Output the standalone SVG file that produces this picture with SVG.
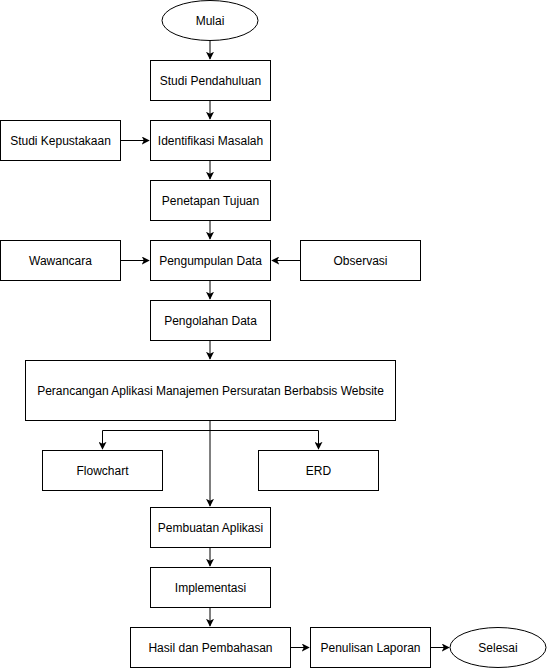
<svg xmlns="http://www.w3.org/2000/svg" width="547" height="668" viewBox="0 0 547 668">
<defs>
<style>
.n{fill:#fff;stroke:#000;stroke-width:1}
.t{font-family:"Liberation Sans",Arial,Helvetica,sans-serif;font-size:12px;fill:#000;text-anchor:middle;dominant-baseline:central}
.c{fill:none;stroke:#000;stroke-width:1}
</style>
<marker id="ah" viewBox="0 0 10 10" refX="9" refY="5" markerWidth="8" markerHeight="8" markerUnits="userSpaceOnUse" orient="auto">
<path d="M0,0 L10,5 L0,10 L2.5,5 Z" fill="#000"/>
</marker>
</defs>
<rect width="547" height="668" fill="#fff"/>
<g id="connectors">
<path class="c" d="M210,40.5 V59" marker-end="url(#ah)"/>
<path class="c" d="M210,100.5 V119" marker-end="url(#ah)"/>
<path class="c" d="M120.5,140.5 H149" marker-end="url(#ah)"/>
<path class="c" d="M210,160.5 V179" marker-end="url(#ah)"/>
<path class="c" d="M210,220.5 V239" marker-end="url(#ah)"/>
<path class="c" d="M120.5,260.5 H149" marker-end="url(#ah)"/>
<path class="c" d="M300.5,260.5 H272" marker-end="url(#ah)"/>
<path class="c" d="M210,280.5 V299" marker-end="url(#ah)"/>
<path class="c" d="M210,340.5 V359" marker-end="url(#ah)"/>
<path class="c" d="M210,420.5 V506" marker-end="url(#ah)"/>
<path class="c" d="M210,430.5 H102.5 V449" marker-end="url(#ah)"/>
<path class="c" d="M210,430.5 H318.5 V449" marker-end="url(#ah)"/>
<path class="c" d="M210,547.5 V566" marker-end="url(#ah)"/>
<path class="c" d="M210,607.5 V626" marker-end="url(#ah)"/>
<path class="c" d="M290.5,647.5 H309" marker-end="url(#ah)"/>
<path class="c" d="M430.5,647.5 H449" marker-end="url(#ah)"/>
</g>
<g id="mulai"><ellipse class="n" cx="210" cy="20.5" rx="48" ry="20"/><text class="t" x="210" y="20.5">Mulai</text></g>
<g id="studi-pendahuluan"><rect class="n" x="150.5" y="60.5" width="120" height="40"/><text class="t" x="210.5" y="80.5">Studi Pendahuluan</text></g>
<g id="studi-kepustakaan"><rect class="n" x="0.5" y="120.5" width="120" height="40"/><text class="t" x="60.5" y="140.5">Studi Kepustakaan</text></g>
<g id="identifikasi-masalah"><rect class="n" x="150.5" y="120.5" width="120" height="40"/><text class="t" x="210.5" y="140.5">Identifikasi Masalah</text></g>
<g id="penetapan-tujuan"><rect class="n" x="150.5" y="180.5" width="120" height="40"/><text class="t" x="210.5" y="200.5">Penetapan Tujuan</text></g>
<g id="wawancara"><rect class="n" x="0.5" y="240.5" width="120" height="40"/><text class="t" x="60.5" y="260.5">Wawancara</text></g>
<g id="pengumpulan-data"><rect class="n" x="150.5" y="240.5" width="120" height="40"/><text class="t" x="210.5" y="260.5">Pengumpulan Data</text></g>
<g id="observasi"><rect class="n" x="300.5" y="240.5" width="120" height="40"/><text class="t" x="360.5" y="260.5">Observasi</text></g>
<g id="pengolahan-data"><rect class="n" x="150.5" y="300.5" width="120" height="40"/><text class="t" x="210.5" y="320.5">Pengolahan Data</text></g>
<g id="perancangan"><rect class="n" x="25.5" y="360.5" width="370" height="60"/><text class="t" x="210.5" y="390.5">Perancangan Aplikasi Manajemen Persuratan Berbabsis Website</text></g>
<g id="flowchart"><rect class="n" x="42.5" y="450.5" width="120" height="40"/><text class="t" x="102.5" y="470.5">Flowchart</text></g>
<g id="erd"><rect class="n" x="258.5" y="450.5" width="120" height="40"/><text class="t" x="318.5" y="470.5">ERD</text></g>
<g id="pembuatan-aplikasi"><rect class="n" x="150.5" y="507.5" width="120" height="40"/><text class="t" x="210.5" y="527.5">Pembuatan Aplikasi</text></g>
<g id="implementasi"><rect class="n" x="150.5" y="567.5" width="120" height="40"/><text class="t" x="210.5" y="587.5">Implementasi</text></g>
<g id="hasil-pembahasan"><rect class="n" x="130.5" y="627.5" width="160" height="40"/><text class="t" x="210.5" y="647.5">Hasil dan Pembahasan</text></g>
<g id="penulisan-laporan"><rect class="n" x="310.5" y="627.5" width="120" height="40"/><text class="t" x="370.5" y="647.5">Penulisan Laporan</text></g>
<g id="selesai"><ellipse class="n" cx="498" cy="647.5" rx="48" ry="20"/><text class="t" x="498" y="647.5">Selesai</text></g>
</svg>
